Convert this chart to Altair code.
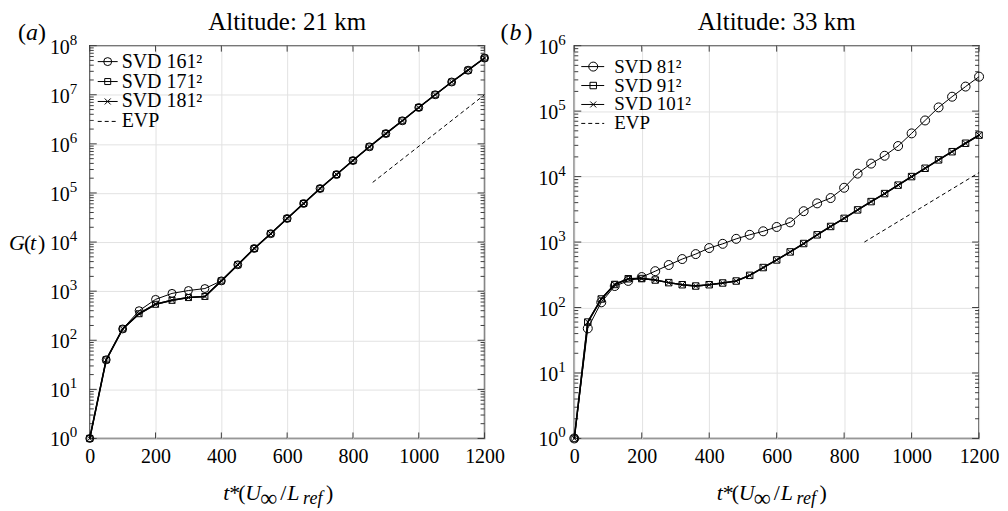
import altair as alt
import pandas as pd

FONT = "Liberation Serif"
INK = "black"
FRAME = "#3d3d3d"
GRID = "#e2e2e2"
XMARK = "M-1,-1L1,1M-1,1L1,-1"

# ---------------- Panel (a): altitude 21 km ----------------
t_a = list(range(0, 1201, 50))
svd161_a = [1, 40, 170, 400, 680, 900, 1030, 1130, 1620, 3450, 7400, 14800,
            30200, 61000, 123000, 237000, 457000, 871000, 1.62e6, 2.95e6,
            5.5e6, 1.0e7, 1.82e7, 3.16e7, 5.6e7]
svd171_a = [1, 40, 170, 347, 540, 650, 740, 780, 1620, 3450, 7400, 14800,
            30200, 61000, 123000, 237000, 457000, 871000, 1.62e6, 2.95e6,
            5.5e6, 1.0e7, 1.82e7, 3.16e7, 5.6e7]
svd181_a = [1, 40, 170, 347, 540, 650, 740, 780, 1620, 3450, 7400, 14800,
            30200, 61000, 123000, 237000, 457000, 871000, 1.62e6, 2.95e6,
            5.5e6, 1.0e7, 1.82e7, 3.16e7, 5.6e7]
evp_t_a = [860, 1200]
evp_g_a = [1.64e5, 1.0e7]
labels_a = ["SVD 161\u00b2", "SVD 171\u00b2", "SVD 181\u00b2", "EVP"]

# ---------------- Panel (b): altitude 33 km ----------------
t_b = list(range(0, 1201, 40))
svd81_b = [1, 48, 120, 213, 255, 292, 359, 446, 550, 655, 810, 940, 1120,
           1290, 1460, 1700, 2000, 2960, 3900, 4700, 6750, 11100, 15800,
           20800, 29300, 45700, 72000, 114000, 166000, 237000, 336000]
svd91_b = [1, 60, 135, 225, 275, 277, 263, 240, 223, 213, 223, 237, 254,
           310, 408, 533, 707, 950, 1290, 1730, 2300, 3100, 4150, 5500,
           7400, 10000, 13400, 18000, 24000, 32300, 43000]
svd101_b = [1, 60, 135, 225, 275, 277, 263, 240, 223, 213, 223, 237, 254,
            310, 408, 533, 707, 950, 1290, 1730, 2300, 3100, 4150, 5500,
            7400, 10000, 13400, 18000, 24000, 32300, 43000]
evp_t_b = [860, 1200]
evp_g_b = [1000, 11500]
labels_b = ["SVD 81\u00b2", "SVD 91\u00b2", "SVD 101\u00b2", "EVP"]

x_ticks = [0, 200, 400, 600, 800, 1000, 1200]
titles = ["Altitude: 21 km", "Altitude: 33 km"]
letters = ["a", "b"]

dummy = pd.DataFrame({"d": [0]})


def txt(s, x, y, size, style="normal", align="left", baseline="alphabetic"):
    return alt.Chart(dummy).mark_text(
        text=s, font=FONT, fontSize=size, fontStyle=style, color=INK,
        align=align, baseline=baseline,
    ).encode(x=alt.value(x), y=alt.value(y))


def panel(t, series, labels, evp_t, evp_g, top_exp, w, h, leg, letter,
          letter_x, title, xt_start, lab_end, show_g):
    xs = alt.Scale(domain=[0, 1200], nice=False, zero=False)
    ys = alt.Scale(type="log", domain=[1, 10 ** top_exp], nice=False)
    decades = [10 ** k for k in range(top_exp + 1)]
    minors = [m * 10 ** k for k in range(top_exp) for m in range(2, 10)]
    xaxis = alt.Axis(values=x_ticks, format="d", ticks=False, domain=False,
                     grid=True, gridColor=GRID, labelFont=FONT, labelFontSize=20,
                     labelColor=INK, labelPadding=8, labelFlush=False,
                     labelOverlap=False, title=None)
    yaxis = alt.Axis(values=decades, labels=False, ticks=False, domain=False,
                     grid=True, gridColor=GRID, title=None)

    def X(f):
        return alt.X(f, scale=xs, axis=xaxis)

    def Y(f):
        return alt.Y(f, scale=ys, axis=yaxis)

    layers = []
    # inward ticks
    xt = alt.Chart(pd.DataFrame({"v": x_ticks}))
    layers.append(xt.mark_rule(color=FRAME).encode(x=X("v:Q"), y=alt.value(h), y2=alt.value(h - 6)))
    layers.append(xt.mark_rule(color=FRAME).encode(x=X("v:Q"), y=alt.value(0), y2=alt.value(6)))
    yt = alt.Chart(pd.DataFrame({"v": decades}))
    layers.append(yt.mark_rule(color=FRAME).encode(y=Y("v:Q"), x=alt.value(0), x2=alt.value(7)))
    layers.append(yt.mark_rule(color=FRAME).encode(y=Y("v:Q"), x=alt.value(w), x2=alt.value(w - 7)))
    ym = alt.Chart(pd.DataFrame({"v": minors}))
    layers.append(ym.mark_rule(color=FRAME).encode(y=Y("v:Q"), x=alt.value(0), x2=alt.value(4)))
    layers.append(ym.mark_rule(color=FRAME).encode(y=Y("v:Q"), x=alt.value(w), x2=alt.value(w - 4)))

    # EVP
    evp = pd.DataFrame({"t": evp_t, "G": evp_g})
    layers.append(alt.Chart(evp).mark_line(color=INK, strokeWidth=1, strokeDash=[4, 3])
                  .encode(x=X("t:Q"), y=Y("G:Q")))

    # series
    for (vals, lw, shape, size) in series:
        df = pd.DataFrame({"t": t, "G": vals})
        base = alt.Chart(df).encode(x=X("t:Q"), y=Y("G:Q"))
        layers.append(base.mark_line(color=INK, strokeWidth=lw))
        layers.append(base.mark_point(shape=shape, size=size, filled=False,
                                      color=INK, strokeWidth=1, opacity=1))

    # legend
    lx1, lx2, lmid, ltx, rows, lfs = leg
    styles = [(s[1], s[2], s[3]) for s in series] + [(1, None, None)]
    for i, (lab, (lw, shape, size)) in enumerate(zip(labels, styles)):
        yy = rows[i]
        if shape is None:
            layers.append(alt.Chart(dummy).mark_rule(color=INK, strokeWidth=1, strokeDash=[4, 3])
                          .encode(x=alt.value(lx1), x2=alt.value(lx2), y=alt.value(yy)))
        else:
            layers.append(alt.Chart(dummy).mark_rule(color=INK, strokeWidth=1)
                          .encode(x=alt.value(lx1), x2=alt.value(lx2), y=alt.value(yy)))
            layers.append(alt.Chart(dummy).mark_point(shape=shape, size=size, filled=False,
                                                      color=INK, strokeWidth=1, opacity=1)
                          .encode(x=alt.value(lmid), y=alt.value(yy)))
        layers.append(txt(lab, ltx, yy + 6, lfs))

    # y tick labels 10^k
    yl = alt.Chart(pd.DataFrame({"v": decades, "e": [str(k) for k in range(top_exp + 1)]}))
    layers.append(yl.mark_text(text="10", font=FONT, fontSize=20, color=INK, align="right",
                               baseline="middle", dy=2)
                  .encode(y=Y("v:Q"), x=alt.value(lab_end - 8)))
    layers.append(yl.mark_text(font=FONT, fontSize=15, color=INK, align="left",
                               baseline="middle", dy=-6)
                  .encode(y=Y("v:Q"), x=alt.value(lab_end - 8), text="e:N"))

    # panel title and letter
    layers.append(txt(title, w / 2, -16, 25, align="center"))
    layers.append(txt("(", letter_x[0], -6, 24))
    layers.append(txt(letter, letter_x[1], -6, 24, style="italic"))
    layers.append(txt(")", letter_x[2], -6, 24))

    # x title: t*(U_inf / L_ref)
    yb = h + 62
    s = xt_start
    layers.append(txt("t", s + 0, yb, 22, style="italic"))
    layers.append(txt("*", s + 6, yb, 22))
    layers.append(txt("(", s + 15, yb, 22))
    layers.append(txt("U", s + 22, yb, 22, style="italic"))
    layers.append(txt("\u221e", s + 37, yb + 6, 24))
    layers.append(txt("/", s + 57, yb, 22))
    layers.append(txt("L", s + 64, yb, 22, style="italic"))
    layers.append(txt("ref", s + 80, yb + 4, 18, style="italic"))
    layers.append(txt(")", s + 103, yb, 22))

    if show_g:
        gy = h / 2 + 8
        layers.append(txt("G", -81, gy, 22, style="italic"))
        layers.append(txt("(", -66, gy, 22))
        layers.append(txt("t", -60, gy, 22, style="italic"))
        layers.append(txt(")", -52, gy, 22))

    return alt.layer(*layers).properties(width=w, height=h)


series_a = [
    (svd161_a, 1.0, "circle", 64),
    (svd171_a, 1.5, "square", 36),
    (svd181_a, 1.5, XMARK, 36),
]
series_b = [
    (svd81_b, 1.0, "circle", 81),
    (svd91_b, 1.5, "square", 42),
    (svd101_b, 1.5, XMARK, 36),
]

H = 394
pa = panel(t_a, series_a, labels_a, evp_t_a, evp_g_a, 8, 396, H,
           (8, 28, 18, 32, [16, 36, 56, 76], 20), letters[0], (-72, -64, -52),
           titles[0], 134, -12, True)
pb = panel(t_b, series_b, labels_b, evp_t_b, evp_g_b, 6, 406, H,
           (7, 30, 19, 40, [21, 40, 59, 78], 19), letters[1], (-74, -65, -50),
           titles[1], 143, -8, False)

chart = alt.hconcat(pa, pb, spacing=90, bounds="flush").properties(
    padding=0
).configure_view(stroke=FRAME, strokeWidth=1.5)

chart.save("out.html", embed_options={"renderer": "svg", "actions": False})
